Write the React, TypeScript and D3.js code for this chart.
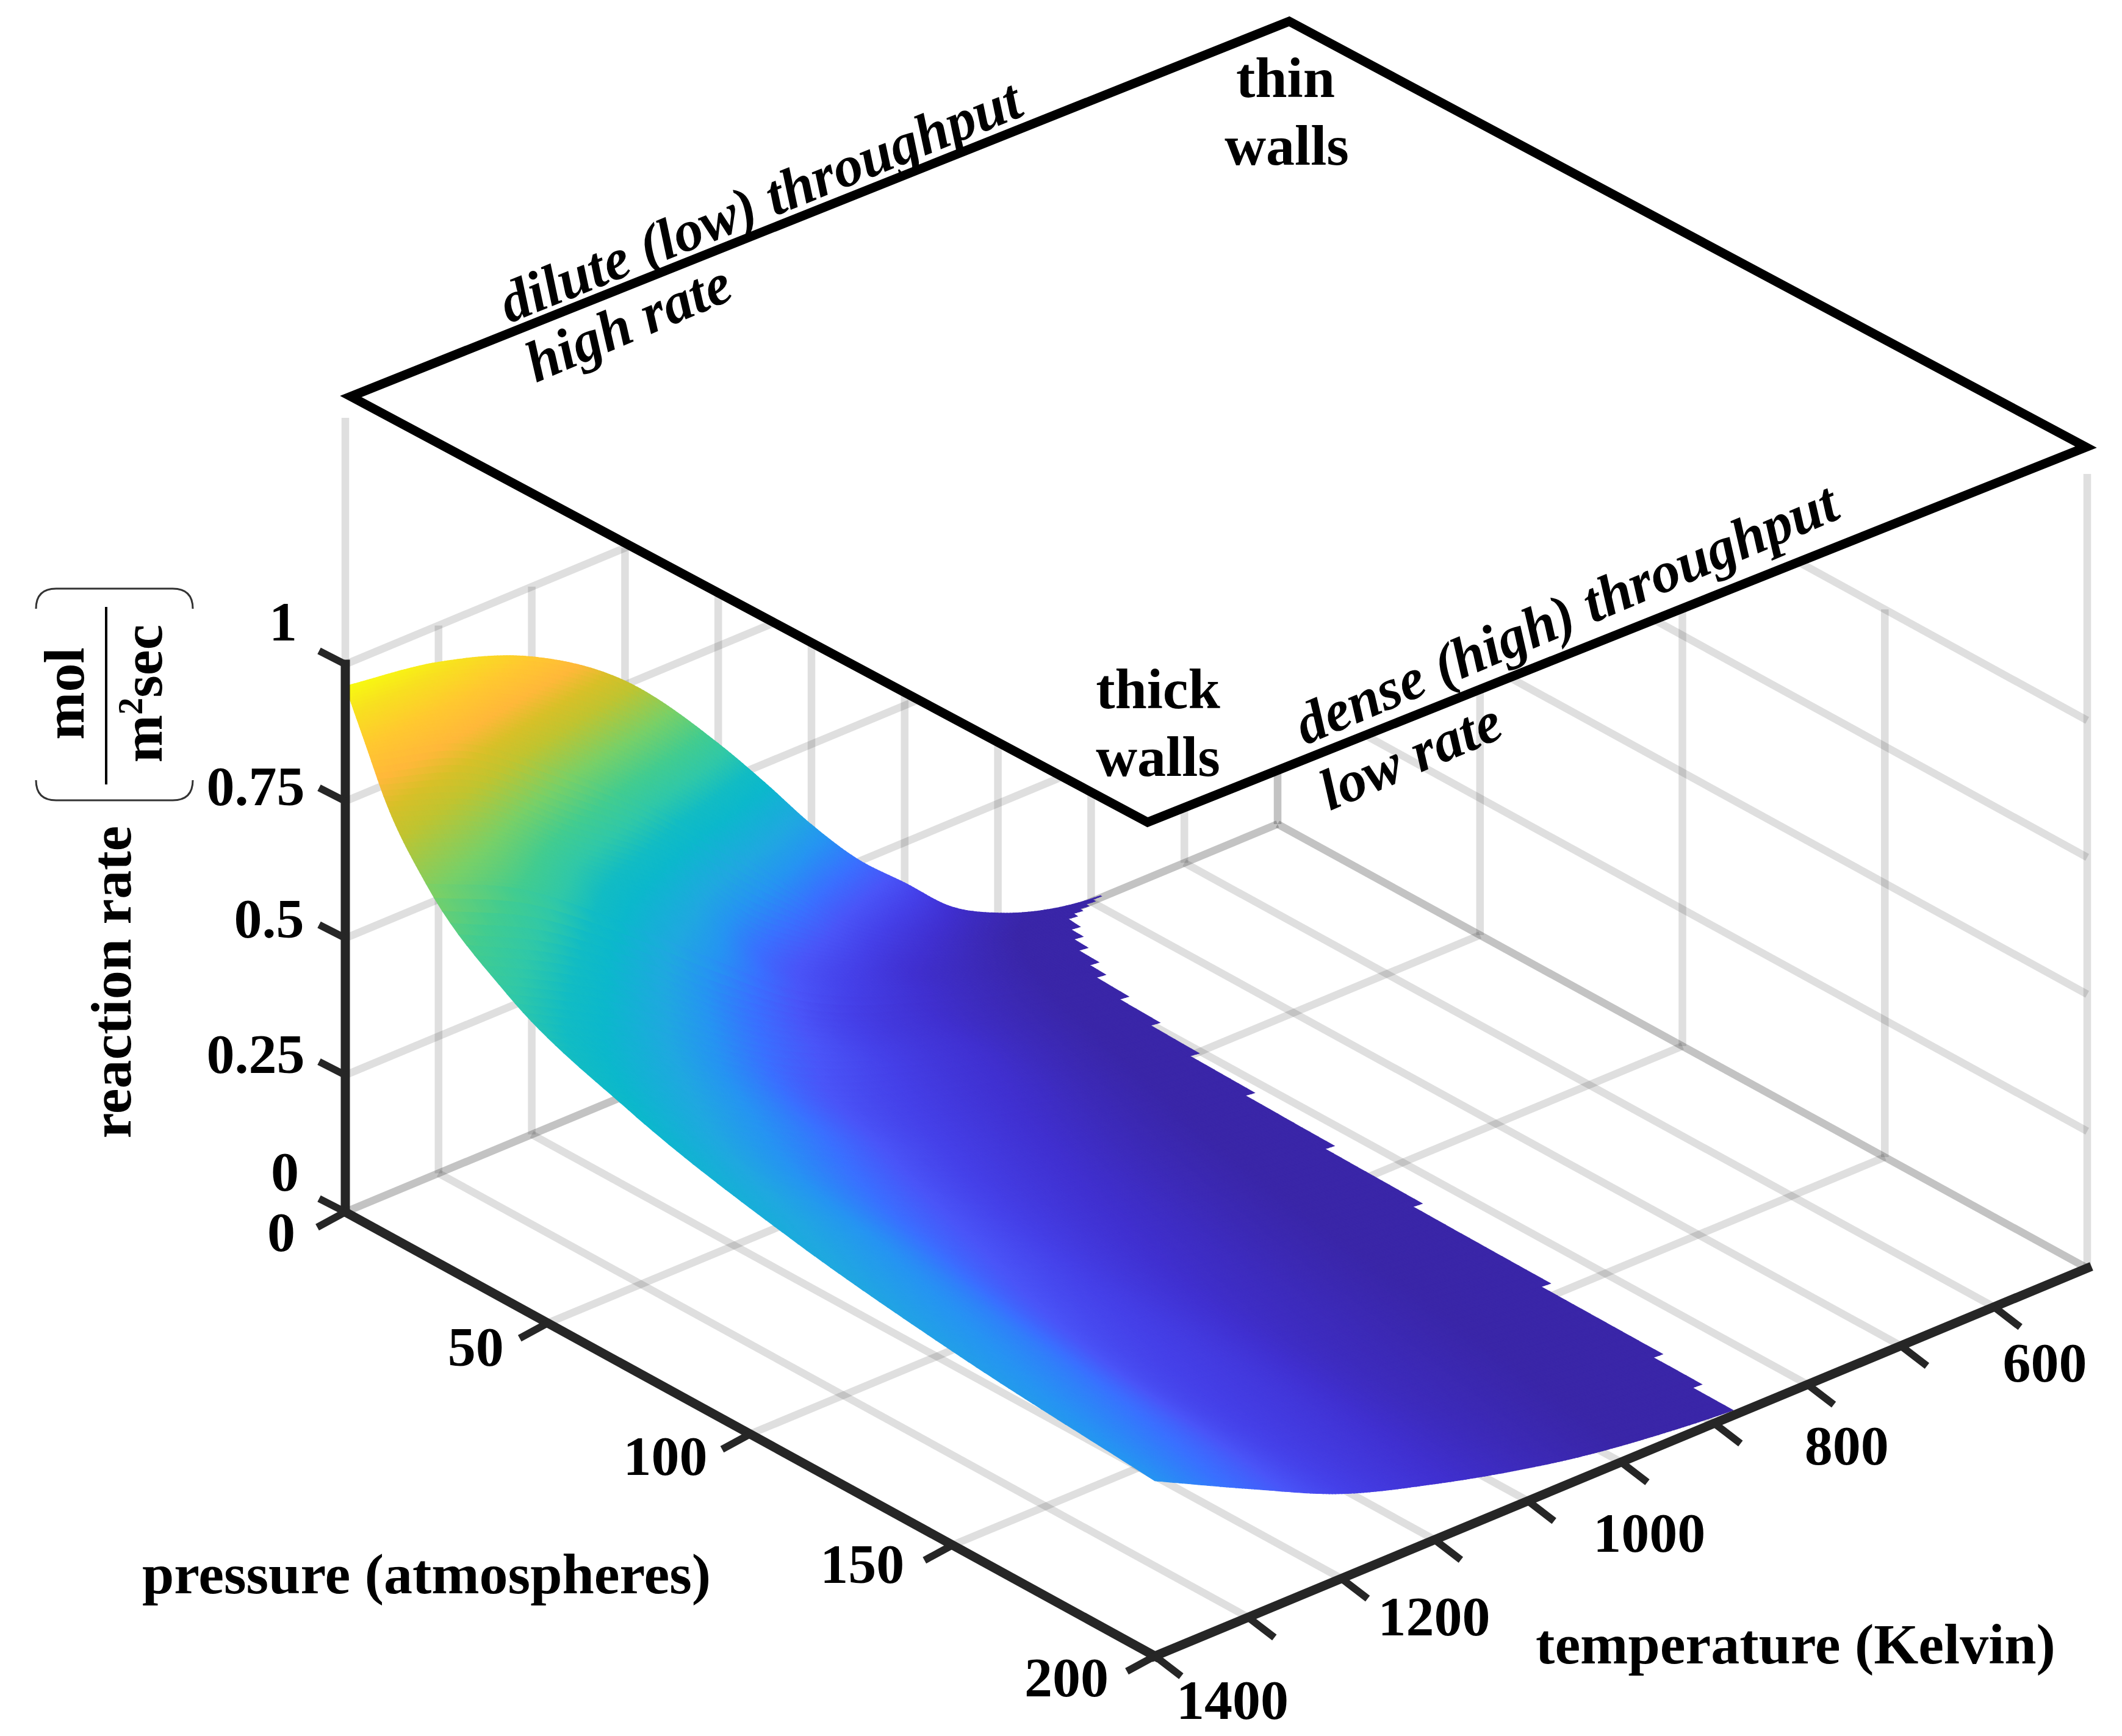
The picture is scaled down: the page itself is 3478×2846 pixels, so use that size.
import { scaleLinear, range, path as d3path } from 'd3'

// values
const pressureTicks = [0, 50, 100, 150, 200]
const temperatureTicks = [1400, 1300, 1200, 1100, 1000, 900, 800, 700, 600, 500, 400]
const temperatureLabels = [1400, 1200, 1000, 800, 600]
const rateTicks = [0, 0.25, 0.5, 0.75, 1]

// rate surface: one list per temperature, sampled at gridPressure
const gridPressure = [0, 5, 10, 20, 40, 70, 110, 150, 200]
const gridTemperature = [580, 600, 650, 700, 750, 800, 850, 900, 950, 1000, 1100, 1200, 1300, 1400]
const rateAt580 = [0.003, 0.003, 0.002, 0.002, 0.001, 0.001, 0.001, 0.001, 0.001]
const rateAt600 = [0.005, 0.004, 0.003, 0.003, 0.002, 0.002, 0.001, 0.001, 0.001]
const rateAt650 = [0.02, 0.012, 0.01, 0.008, 0.005, 0.004, 0.003, 0.002, 0.002]
const rateAt700 = [0.05, 0.03, 0.024, 0.018, 0.012, 0.008, 0.006, 0.004, 0.003]
const rateAt750 = [0.097, 0.064, 0.048, 0.036, 0.026, 0.018, 0.012, 0.009, 0.007]
const rateAt800 = [0.176, 0.11, 0.08, 0.06, 0.045, 0.03, 0.021, 0.016, 0.012]
const rateAt850 = [0.254, 0.165, 0.115, 0.088, 0.07, 0.048, 0.034, 0.027, 0.02]
const rateAt900 = [0.353, 0.23, 0.165, 0.12, 0.1, 0.07, 0.05, 0.04, 0.03]
const rateAt950 = [0.465, 0.325, 0.22, 0.155, 0.125, 0.095, 0.07, 0.055, 0.043]
const rateAt1000 = [0.572, 0.42, 0.28, 0.2, 0.155, 0.12, 0.09, 0.07, 0.06]
const rateAt1100 = [0.757, 0.58, 0.465, 0.335, 0.23, 0.18, 0.145, 0.125, 0.102]
const rateAt1200 = [0.872, 0.72, 0.59, 0.475, 0.345, 0.27, 0.215, 0.175, 0.155]
const rateAt1300 = [0.933, 0.83, 0.72, 0.6, 0.465, 0.365, 0.315, 0.277, 0.235]
const rateAt1400 = [0.96, 0.875, 0.79, 0.68, 0.56, 0.47, 0.398, 0.354, 0.32]
const rateRows = [rateAt580, rateAt600, rateAt650, rateAt700, rateAt750, rateAt800, rateAt850, rateAt900, rateAt950, rateAt1000, rateAt1100, rateAt1200, rateAt1300, rateAt1400]

// where the surface stops on the cold side
const cutPressure = [0, 3, 12, 26, 45, 72, 114, 175, 200]
const cutTemperature = [586, 628, 658, 687, 705, 722, 740, 758, 777]

// colormap
const colorStops = [0, 0.03, 0.097, 0.15, 0.2, 0.254, 0.29, 0.32, 0.38, 0.46, 0.5, 0.55, 0.6, 0.665, 0.74, 0.78, 0.82, 0.87, 0.92, 0.96]
const colorValues = ['#3a26a8', '#3a26a8', '#4030d0', '#4540e8', '#4a55f8', '#3a70ff', '#2e84f8', '#2694f2', '#20a8e0', '#0cb8cc', '#12bcc4', '#30c8a8', '#42cc90', '#78d068', '#c0c430', '#d8c028', '#ffb83a', '#ffc830', '#f8e020', '#f8fb10']

// text nudges from each tick, same order as the tick lists
const rateLabelShift = [[-99, -66], [-147, -35], [-125, -32], [-147, -25], [-102, -70]]
const pressureLabelShift = [[-105, 33], [-118, 39], [-139, 36], [-148, 31], [-145, 35]]
const temperatureLabelShift = [[127, 72], [152, 62], [199, 52], [217, 36], [236, 28]]

const width = 3478
const height = 2846
const axisColor = '#262626'
const serif = '"Liberation Serif"'

// box projection, the figure is a plain parallel projection
let originX = 566
let originY = 1987
let pressureX = scaleLinear().domain([0, 200]).range([0, 1327])
let pressureY = scaleLinear().domain([0, 200]).range([0, 728])
let temperatureX = scaleLinear().domain([1400, 400]).range([0, 1528])
let temperatureY = scaleLinear().domain([1400, 400]).range([0, -636])
let rateY = scaleLinear().domain([0, 1]).range([0, -898])

let project = (p: number, t: number, z = 0) => [
    originX + pressureX(p) + temperatureX(t),
    originY + pressureY(p) + temperatureY(t) + rateY(z),
]

// the black lid was pasted on top by hand, so it has its own placement
let lidPressureX = scaleLinear().domain([0, 200]).range([575, 1881])
let lidPressureY = scaleLinear().domain([0, 200]).range([650, 1348])
let lidTemperatureX = scaleLinear().domain([1400, 400]).range([0, 1538])
let lidTemperatureY = scaleLinear().domain([1400, 400]).range([0, -615])
let projectLid = (p: number, t: number) => [lidPressureX(p) + lidTemperatureX(t), lidPressureY(p) + lidTemperatureY(t)]

let colorScale = scaleLinear<string>().domain(colorStops).range(colorValues).clamp(true)
let cutScale = scaleLinear().domain(cutPressure).range(cutTemperature)

// cubic through the read values, only used to shade the surface smoothly
let smooth = (xs: number[], ys: number[]) => {
    let n = xs.length
    let slopes = range(n - 1).map(i => (ys[i + 1] - ys[i]) / (xs[i + 1] - xs[i]))
    let m = xs.map((_, i) => {
        if (i === 0) return slopes[0]
        if (i === n - 1) return slopes[n - 2]
        if (slopes[i - 1] * slopes[i] <= 0) return 0
        let a = xs[i] - xs[i - 1]
        let b = xs[i + 1] - xs[i]
        let tangent = (b * slopes[i - 1] + a * slopes[i]) / (a + b)
        let limit = 3 * Math.min(Math.abs(slopes[i - 1]), Math.abs(slopes[i]))
        return Math.sign(tangent) * Math.min(Math.abs(tangent), limit)
    })
    return (x: number) => {
        let i = Math.min(n - 2, Math.max(0, xs.findIndex(v => v > x) - 1))
        if (x >= xs[n - 1]) i = n - 2
        let h = xs[i + 1] - xs[i]
        let s = (x - xs[i]) / h
        return (2 * s ** 3 - 3 * s ** 2 + 1) * ys[i] + (s ** 3 - 2 * s ** 2 + s) * h * m[i]
            + (-2 * s ** 3 + 3 * s ** 2) * ys[i + 1] + (s ** 3 - s ** 2) * h * m[i + 1]
    }
}

let meshPressure = [...range(0, 6, 0.25), ...range(6, 20, 0.5), ...range(20, 200, 2), 200]
let meshTemperature = [...range(0, 246).map(i => 580 + i * 10 / 3), 1400]

let rowCurves = rateRows.map(row => smooth(gridPressure, row))
let meshRate = meshPressure.map(p => {
    let across = smooth(gridTemperature, rowCurves.map(curve => curve(p)))
    return meshTemperature.map(t => across(t))
})

let polyline = (points: number[][]) => 'M' + points.map(q => q.map(v => Math.round(v * 10) / 10).join(',')).join('L')

let buildCells = () => {
    let cells: { d: string, fill: string }[] = []
    // far corner first, so nearer cells paint over
    meshTemperature.slice(0, -1).forEach((t0, i) => {
        let t1 = meshTemperature[i + 1]
        meshPressure.slice(0, -1).forEach((p0, j) => {
            let p1 = meshPressure[j + 1]
            // the stairs on the cold edge come from a 10 K mesh
            let cut = Math.ceil(cutScale((p0 + p1) / 2) / 10) * 10
            if (t0 < cut - 0.01) return
            let corners = [
                project(p0, t0, meshRate[j][i]),
                project(p1, t0, meshRate[j + 1][i]),
                project(p1, t1, meshRate[j + 1][i + 1]),
                project(p0, t1, meshRate[j][i + 1]),
            ]
            let mean = (meshRate[j][i] + meshRate[j + 1][i] + meshRate[j + 1][i + 1] + meshRate[j][i + 1]) / 4
            cells.push({ d: polyline(corners) + 'Z', fill: colorScale(mean) })
        })
    })
    return cells
}

let bracket = (y0: number, y1: number) => {
    let p = d3path()
    p.moveTo(59, y1)
    p.quadraticCurveTo(59, y0, 92, y0)
    p.lineTo(283, y0)
    p.quadraticCurveTo(316, y0, 316, y1)
    return p.toString()
}

const App = () => {
    let cells = buildCells()
    let grid: number[][][] = []

    // floor
    pressureTicks.forEach(p => grid.push([project(p, 1400), project(p, 400)]))
    temperatureTicks.forEach(t => grid.push([project(0, t), project(200, t)]))
    // left and right walls
    rateTicks.forEach(z => {
        grid.push([project(0, 1400, z), project(0, 400, z)])
        grid.push([project(0, 400, z), project(200, 400, z)])
    })
    temperatureTicks.forEach(t => grid.push([project(0, t), project(0, t, t === 1400 ? 1.45 : 1)]))
    pressureTicks.forEach(p => grid.push([project(p, 400), project(p, 400, p === 200 ? 1.45 : 1)]))

    let lid = [projectLid(0, 1400), projectLid(200, 1400), projectLid(200, 400), projectLid(0, 400)]

    let tickText = { fontFamily: serif, fontWeight: 700, fontSize: 92, textAnchor: 'middle' as const }
    let titleText = { fontFamily: serif, fontWeight: 700, fontSize: 94, textAnchor: 'middle' as const }
    let noteText = { fontFamily: serif, fontWeight: 700, fontStyle: 'italic', fontSize: 95, textAnchor: 'middle' as const }

    return (
        <svg width={width} height={height} style={{ position: 'absolute', left: 0, top: 0, background: '#fff' }}>
            <g stroke={axisColor} strokeOpacity={0.15} strokeWidth={12.5} fill='none'>
                {grid.map((line, i) => <path key={i} d={polyline(line)} />)}
            </g>

            <path d={polyline(lid) + 'Z'} fill='#fff' stroke='#000' strokeWidth={15} strokeLinejoin='miter' />

            <g strokeWidth={1.2}>
                {cells.map((c, i) => <path key={i} d={c.d} fill={c.fill} stroke={c.fill} />)}
            </g>

            <g stroke={axisColor} fill='none'>
                <g strokeWidth={15} strokeLinecap='square'>
                    <path d={polyline([project(0, 1400), project(0, 1400, 1)])} />
                    <path d={polyline([project(0, 1400), project(200, 1400)])} />
                    <path d={polyline([project(200, 1400), project(200, 400)])} />
                </g>
                <g strokeWidth={12}>
                    {rateTicks.map(z => {
                        let [x, y] = project(0, 1400, z)
                        return <line key={z} x1={x} y1={y} x2={x - 43} y2={y - 22} />
                    })}
                    {pressureTicks.map(p => {
                        let [x, y] = project(p, 1400)
                        return <line key={p} x1={x} y1={y} x2={x - 46} y2={y + 25} />
                    })}
                    {temperatureTicks.slice(0, -1).map(t => {
                        let [x, y] = project(200, t)
                        return <line key={t} x1={x} y1={y} x2={x + 43} y2={y + 33} />
                    })}
                </g>
            </g>

            {rateTicks.map((z, i) => {
                let [x, y] = project(0, 1400, z)
                return <text key={z} {...tickText} x={x + rateLabelShift[i][0]} y={y + rateLabelShift[i][1]} dy='.34em'>{z}</text>
            })}
            {pressureTicks.map((p, i) => {
                let [x, y] = project(p, 1400)
                return <text key={p} {...tickText} x={x + pressureLabelShift[i][0]} y={y + pressureLabelShift[i][1]} dy='.34em'>{p}</text>
            })}
            {temperatureLabels.map((t, i) => {
                let [x, y] = project(200, t)
                return <text key={t} {...tickText} x={x + temperatureLabelShift[i][0]} y={y + temperatureLabelShift[i][1]} dy='.34em'>{t}</text>
            })}

            <text {...titleText} x={699} y={2584} dy='.3em'>pressure (atmospheres)</text>
            <text {...titleText} x={2943} y={2699} dy='.3em'>temperature (Kelvin)</text>
            <text {...titleText} transform='translate(214,1610) rotate(-90)'>reaction rate</text>
            <text {...titleText} transform='translate(137,1137) rotate(-90)'>mol</text>
            <text {...titleText} transform='translate(265,1137) rotate(-90)'>
                m<tspan dy={-32} fontSize={56}>2</tspan><tspan dy={32}>sec</tspan>
            </text>
            <line x1={174} y1={995} x2={174} y2={1286} stroke='#000' strokeWidth={4} />
            <path d={bracket(965, 998)} fill='none' stroke='#333' strokeWidth={3} />
            <path d={bracket(1312, 1279)} fill='none' stroke='#333' strokeWidth={3} />

            <text {...noteText} transform='translate(1247,333) rotate(-22)' dy='.3em'>dilute (low) throughput</text>
            <text {...noteText} transform='translate(1031,532) rotate(-23)' dy='.3em'>high rate</text>
            <text {...noteText} transform='translate(2568,1009) rotate(-23)' dy='.3em'>dense (high) throughput</text>
            <text {...noteText} transform='translate(2313,1242) rotate(-23)' dy='.3em'>low rate</text>

            <text {...titleText} x={2107} y={131} dy='.3em'>thin</text>
            <text {...titleText} x={2109} y={242} dy='.3em'>walls</text>
            <text {...titleText} x={1898} y={1133} dy='.3em'>thick</text>
            <text {...titleText} x={1898} y={1244} dy='.3em'>walls</text>
        </svg>
    )
}

export default App
